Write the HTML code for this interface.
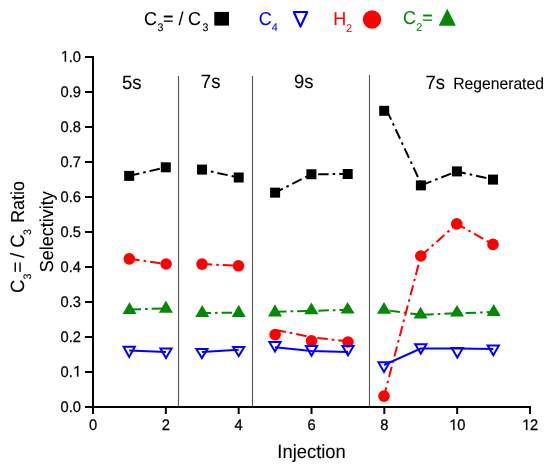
<!DOCTYPE html>
<html><head><meta charset="utf-8"><title>Selectivity chart</title>
<style>html,body{margin:0;padding:0;background:#fff;}svg{display:block;will-change:transform;font-family:"Liberation Sans",sans-serif;}</style>
</head><body>
<svg width="550" height="472" viewBox="0 0 550 472" font-family="Liberation Sans, sans-serif" text-rendering="geometricPrecision">
<line x1="93" y1="56" x2="93" y2="408" stroke="#000" stroke-width="2"/>
<line x1="92" y1="407" x2="531" y2="407" stroke="#000" stroke-width="2"/>
<line x1="85" y1="57" x2="93" y2="57" stroke="#000" stroke-width="2"/>
<path transform="translate(60.57,61.50) scale(0.00718,-0.00746)" d="M583,0 L764,0 L764,1409 L610,1409 L240,1165 L240,995 L583,1220 Z" fill="#000" stroke="#000" stroke-width="34.8"/><text transform="translate(68.74,61.50) scale(1,1.04)" font-size="14.7" stroke="#000" stroke-width="0.25">.</text><text transform="translate(72.83,61.50) scale(1,1.04)" font-size="14.7" stroke="#000" stroke-width="0.25">0</text>
<line x1="85" y1="92" x2="93" y2="92" stroke="#000" stroke-width="2"/>
<text transform="translate(60.57,96.50) scale(1,1.04)" font-size="14.7" stroke="#000" stroke-width="0.25">0</text><text transform="translate(68.74,96.50) scale(1,1.04)" font-size="14.7" stroke="#000" stroke-width="0.25">.</text><text transform="translate(72.83,96.50) scale(1,1.04)" font-size="14.7" stroke="#000" stroke-width="0.25">9</text>
<line x1="85" y1="127" x2="93" y2="127" stroke="#000" stroke-width="2"/>
<text transform="translate(60.57,131.50) scale(1,1.04)" font-size="14.7" stroke="#000" stroke-width="0.25">0</text><text transform="translate(68.74,131.50) scale(1,1.04)" font-size="14.7" stroke="#000" stroke-width="0.25">.</text><text transform="translate(72.83,131.50) scale(1,1.04)" font-size="14.7" stroke="#000" stroke-width="0.25">8</text>
<line x1="85" y1="162" x2="93" y2="162" stroke="#000" stroke-width="2"/>
<text transform="translate(60.57,166.50) scale(1,1.04)" font-size="14.7" stroke="#000" stroke-width="0.25">0</text><text transform="translate(68.74,166.50) scale(1,1.04)" font-size="14.7" stroke="#000" stroke-width="0.25">.</text><text transform="translate(72.83,166.50) scale(1,1.04)" font-size="14.7" stroke="#000" stroke-width="0.25">7</text>
<line x1="85" y1="197" x2="93" y2="197" stroke="#000" stroke-width="2"/>
<text transform="translate(60.57,201.50) scale(1,1.04)" font-size="14.7" stroke="#000" stroke-width="0.25">0</text><text transform="translate(68.74,201.50) scale(1,1.04)" font-size="14.7" stroke="#000" stroke-width="0.25">.</text><text transform="translate(72.83,201.50) scale(1,1.04)" font-size="14.7" stroke="#000" stroke-width="0.25">6</text>
<line x1="85" y1="232" x2="93" y2="232" stroke="#000" stroke-width="2"/>
<text transform="translate(60.57,236.50) scale(1,1.04)" font-size="14.7" stroke="#000" stroke-width="0.25">0</text><text transform="translate(68.74,236.50) scale(1,1.04)" font-size="14.7" stroke="#000" stroke-width="0.25">.</text><text transform="translate(72.83,236.50) scale(1,1.04)" font-size="14.7" stroke="#000" stroke-width="0.25">5</text>
<line x1="85" y1="267" x2="93" y2="267" stroke="#000" stroke-width="2"/>
<text transform="translate(60.57,271.50) scale(1,1.04)" font-size="14.7" stroke="#000" stroke-width="0.25">0</text><text transform="translate(68.74,271.50) scale(1,1.04)" font-size="14.7" stroke="#000" stroke-width="0.25">.</text><text transform="translate(72.83,271.50) scale(1,1.04)" font-size="14.7" stroke="#000" stroke-width="0.25">4</text>
<line x1="85" y1="302" x2="93" y2="302" stroke="#000" stroke-width="2"/>
<text transform="translate(60.57,306.50) scale(1,1.04)" font-size="14.7" stroke="#000" stroke-width="0.25">0</text><text transform="translate(68.74,306.50) scale(1,1.04)" font-size="14.7" stroke="#000" stroke-width="0.25">.</text><text transform="translate(72.83,306.50) scale(1,1.04)" font-size="14.7" stroke="#000" stroke-width="0.25">3</text>
<line x1="85" y1="337" x2="93" y2="337" stroke="#000" stroke-width="2"/>
<text transform="translate(60.57,341.50) scale(1,1.04)" font-size="14.7" stroke="#000" stroke-width="0.25">0</text><text transform="translate(68.74,341.50) scale(1,1.04)" font-size="14.7" stroke="#000" stroke-width="0.25">.</text><text transform="translate(72.83,341.50) scale(1,1.04)" font-size="14.7" stroke="#000" stroke-width="0.25">2</text>
<line x1="85" y1="372" x2="93" y2="372" stroke="#000" stroke-width="2"/>
<text transform="translate(60.57,376.50) scale(1,1.04)" font-size="14.7" stroke="#000" stroke-width="0.25">0</text><text transform="translate(68.74,376.50) scale(1,1.04)" font-size="14.7" stroke="#000" stroke-width="0.25">.</text><path transform="translate(72.83,376.50) scale(0.00718,-0.00746)" d="M583,0 L764,0 L764,1409 L610,1409 L240,1165 L240,995 L583,1220 Z" fill="#000" stroke="#000" stroke-width="34.8"/>
<line x1="85" y1="407" x2="93" y2="407" stroke="#000" stroke-width="2"/>
<text transform="translate(60.57,411.50) scale(1,1.04)" font-size="14.7" stroke="#000" stroke-width="0.25">0</text><text transform="translate(68.74,411.50) scale(1,1.04)" font-size="14.7" stroke="#000" stroke-width="0.25">.</text><text transform="translate(72.83,411.50) scale(1,1.04)" font-size="14.7" stroke="#000" stroke-width="0.25">0</text>
<line x1="93.00" y1="406" x2="93.00" y2="414" stroke="#000" stroke-width="2"/>
<text transform="translate(88.91,430.00) scale(1,1.04)" font-size="14.7" stroke="#000" stroke-width="0.25">0</text>
<line x1="165.83" y1="406" x2="165.83" y2="414" stroke="#000" stroke-width="2"/>
<text transform="translate(161.75,430.00) scale(1,1.04)" font-size="14.7" stroke="#000" stroke-width="0.25">2</text>
<line x1="238.67" y1="406" x2="238.67" y2="414" stroke="#000" stroke-width="2"/>
<text transform="translate(234.58,430.00) scale(1,1.04)" font-size="14.7" stroke="#000" stroke-width="0.25">4</text>
<line x1="311.50" y1="406" x2="311.50" y2="414" stroke="#000" stroke-width="2"/>
<text transform="translate(307.41,430.00) scale(1,1.04)" font-size="14.7" stroke="#000" stroke-width="0.25">6</text>
<line x1="384.33" y1="406" x2="384.33" y2="414" stroke="#000" stroke-width="2"/>
<text transform="translate(380.25,430.00) scale(1,1.04)" font-size="14.7" stroke="#000" stroke-width="0.25">8</text>
<line x1="457.17" y1="406" x2="457.17" y2="414" stroke="#000" stroke-width="2"/>
<path transform="translate(448.99,430.00) scale(0.00718,-0.00746)" d="M583,0 L764,0 L764,1409 L610,1409 L240,1165 L240,995 L583,1220 Z" fill="#000" stroke="#000" stroke-width="34.8"/><text transform="translate(457.17,430.00) scale(1,1.04)" font-size="14.7" stroke="#000" stroke-width="0.25">0</text>
<line x1="530.00" y1="406" x2="530.00" y2="414" stroke="#000" stroke-width="2"/>
<path transform="translate(521.83,430.00) scale(0.00718,-0.00746)" d="M583,0 L764,0 L764,1409 L610,1409 L240,1165 L240,995 L583,1220 Z" fill="#000" stroke="#000" stroke-width="34.8"/><text transform="translate(530.00,430.00) scale(1,1.04)" font-size="14.7" stroke="#000" stroke-width="0.25">2</text>
<line x1="178.5" y1="76" x2="178.5" y2="406" stroke="#555" stroke-width="1.1"/>
<line x1="252.5" y1="76" x2="252.5" y2="406" stroke="#555" stroke-width="1.1"/>
<line x1="369.5" y1="75" x2="369.5" y2="406" stroke="#555" stroke-width="1.1"/>
<text transform="translate(121.96,88.60) scale(1,1.04)" font-size="18.5" fill="#000" stroke="#000" stroke-width="0.1" >5s</text>
<text transform="translate(200.85,88.40) scale(1,1.04)" font-size="18.5" fill="#000" stroke="#000" stroke-width="0.1" >7s</text>
<text transform="translate(293.93,87.60) scale(1,1.04)" font-size="18.5" fill="#000" stroke="#000" stroke-width="0.1" >9s</text>
<text transform="translate(425.55,88.60) scale(1,1.04)" font-size="18.5" fill="#000" stroke="#000" stroke-width="0.1" >7s</text>
<text transform="translate(453.21,88.50) scale(1,1.04)" font-size="15.7" fill="#000" stroke="#000" stroke-width="0.1" >Regenerated</text>
<text transform="translate(277.30,458.30) scale(1,1.04)" font-size="18.4" fill="#000" stroke="#000" stroke-width="0.1" >Injection</text>
<text transform="translate(24.2,293) rotate(-90) scale(1,1.04)" fill="#000" stroke="#000" stroke-width="0.1"><tspan x="0" y="0" font-size="18.5">C</tspan><tspan x="13.4" y="6.55" font-size="10.5">3</tspan><tspan x="20.2" y="0" font-size="18.5">=</tspan><tspan x="35.1" y="0" font-size="18.5">/</tspan><tspan x="45.3" y="0" font-size="18.5">C</tspan><tspan x="58" y="6.55" font-size="10.5">3</tspan><tspan x="70.1" y="0" font-size="18">Ratio</tspan></text>
<text transform="translate(52.7,272.31) rotate(-90) scale(1,1.04)" fill="#000" stroke="#000" stroke-width="0.1"><tspan x="0" y="0" font-size="18">Selectivity</tspan></text>
<text transform="translate(143.89,24.70) scale(1,1.04)" font-size="18" fill="#000" stroke="#000" stroke-width="0.1" >C</text>
<text transform="translate(157.40,30.90) scale(1,1.04)" font-size="10.6" fill="#000" stroke="#000" stroke-width="0.1" >3</text>
<text transform="translate(163.02,24.70) scale(1,1.04)" font-size="18" fill="#000" stroke="#000" stroke-width="0.1" >=</text>
<text transform="translate(178.50,24.70) scale(1,1.04)" font-size="18" fill="#000" stroke="#000" stroke-width="0.1" >/</text>
<text transform="translate(188.09,24.70) scale(1,1.04)" font-size="18" fill="#000" stroke="#000" stroke-width="0.1" >C</text>
<text transform="translate(202.40,30.90) scale(1,1.04)" font-size="10.6" fill="#000" stroke="#000" stroke-width="0.1" >3</text>
<rect x="214.3" y="11.9" width="14.7" height="13.7" fill="#000"/>
<text transform="translate(258.69,24.90) scale(1,1.04)" font-size="18" fill="#0000ff" stroke="#0000ff" stroke-width="0.1" >C</text>
<text transform="translate(271.75,31.40) scale(1,1.04)" font-size="10.8" fill="#0000ff" stroke="#0000ff" stroke-width="0.1" >4</text>
<path d="M293.8,12 L307.2,12 L300.5,26.6 Z" fill="none" stroke="#0000ff" stroke-width="2.2" stroke-linejoin="round"/>
<text transform="translate(333.32,24.90) scale(1,1.04)" font-size="18" fill="#ff0000" stroke="#ff0000" stroke-width="0.1" >H</text>
<text transform="translate(345.96,31.60) scale(1,1.04)" font-size="10.8" fill="#ff0000" stroke="#ff0000" stroke-width="0.1" >2</text>
<circle cx="372" cy="19.5" r="9.2" fill="#ff0000"/>
<text transform="translate(402.89,24.40) scale(1,1.04)" font-size="18" fill="#068806" stroke="#068806" stroke-width="0.1" >C</text>
<text transform="translate(416.26,30.70) scale(1,1.04)" font-size="10.8" fill="#068806" stroke="#068806" stroke-width="0.1" >2</text>
<text transform="translate(422.32,24.40) scale(1,1.04)" font-size="18" fill="#068806" stroke="#068806" stroke-width="0.1" >=</text>
<path d="M447.3,8.7 L455.9,25.7 L438.7,25.7 Z" fill="#068806"/>
<line x1="129.20" y1="175.90" x2="165.80" y2="167.30" stroke="#000" stroke-width="2" stroke-dasharray="10.5 4 2.6 4" stroke-dashoffset="0.15"/>
<line x1="202.00" y1="169.60" x2="238.70" y2="177.50" stroke="#000" stroke-width="2" stroke-dasharray="10.5 4 2.6 4" stroke-dashoffset="5.35"/>
<line x1="275.10" y1="192.65" x2="311.40" y2="174.25" stroke="#000" stroke-width="2" stroke-dasharray="10.5 4 2.6 4" stroke-dashoffset="1.85"/>
<line x1="311.40" y1="174.25" x2="347.70" y2="174.00" stroke="#000" stroke-width="2" stroke-dasharray="10.5 4 2.6 4" stroke-dashoffset="14.40"/>
<line x1="387.00" y1="110.80" x2="421.90" y2="185.40" stroke="#000" stroke-width="2" stroke-dasharray="10.5 4 2.6 4" stroke-dashoffset="0.75"/>
<line x1="420.90" y1="185.40" x2="456.90" y2="171.40" stroke="#000" stroke-width="2" stroke-dasharray="10.5 4 2.6 4" stroke-dashoffset="20.35"/>
<line x1="456.90" y1="171.40" x2="493.00" y2="179.60" stroke="#000" stroke-width="2" stroke-dasharray="10.5 4 2.6 4" stroke-dashoffset="1.40"/>
<rect x="124.20" y="170.90" width="10" height="10" fill="#000"/>
<rect x="160.80" y="162.30" width="10" height="10" fill="#000"/>
<rect x="197.00" y="164.60" width="10" height="10" fill="#000"/>
<rect x="233.70" y="172.50" width="10" height="10" fill="#000"/>
<rect x="270.10" y="187.65" width="10" height="10" fill="#000"/>
<rect x="306.40" y="169.25" width="10" height="10" fill="#000"/>
<rect x="342.70" y="169.00" width="10" height="10" fill="#000"/>
<rect x="379.20" y="105.80" width="10" height="10" fill="#000"/>
<rect x="415.90" y="180.40" width="10" height="10" fill="#000"/>
<rect x="451.90" y="166.40" width="10" height="10" fill="#000"/>
<rect x="488.00" y="174.60" width="10" height="10" fill="#000"/>
<line x1="129.50" y1="309.50" x2="165.90" y2="308.40" stroke="#068806" stroke-width="2" stroke-dasharray="10.5 4 2.6 4" stroke-dashoffset="20.05"/>
<line x1="202.20" y1="313.00" x2="238.70" y2="312.70" stroke="#068806" stroke-width="2" stroke-dasharray="10.5 4 2.6 4" stroke-dashoffset="1.65"/>
<line x1="275.00" y1="311.80" x2="311.40" y2="310.80" stroke="#068806" stroke-width="2" stroke-dasharray="10.5 4 2.6 4" stroke-dashoffset="20.05"/>
<line x1="311.40" y1="310.80" x2="347.60" y2="309.90" stroke="#068806" stroke-width="2" stroke-dasharray="10.5 4 2.6 4" stroke-dashoffset="14.15"/>
<line x1="384.00" y1="309.90" x2="420.60" y2="314.80" stroke="#068806" stroke-width="2" stroke-dasharray="10.5 4 2.6 4" stroke-dashoffset="15.65"/>
<line x1="420.60" y1="314.80" x2="457.00" y2="313.20" stroke="#068806" stroke-width="2" stroke-dasharray="10.5 4 2.6 4" stroke-dashoffset="18.45"/>
<line x1="457.00" y1="313.20" x2="493.70" y2="312.10" stroke="#068806" stroke-width="2" stroke-dasharray="10.5 4 2.6 4" stroke-dashoffset="12.50"/>
<path d="M129.50,302.20 L136.50,314.00 L122.50,314.00 Z" fill="#068806"/>
<path d="M165.90,300.50 L172.90,312.70 L158.90,312.70 Z" fill="#068806"/>
<path d="M202.20,305.00 L209.20,317.00 L195.20,317.00 Z" fill="#068806"/>
<path d="M238.70,304.70 L245.70,316.90 L231.70,316.90 Z" fill="#068806"/>
<path d="M275.00,304.20 L282.00,316.50 L268.00,316.50 Z" fill="#068806"/>
<path d="M311.40,302.50 L318.40,314.20 L304.40,314.20 Z" fill="#068806"/>
<path d="M347.60,301.90 L354.60,313.50 L340.60,313.50 Z" fill="#068806"/>
<path d="M384.00,301.90 L391.00,313.70 L377.00,313.70 Z" fill="#068806"/>
<path d="M420.60,306.80 L427.60,318.60 L413.60,318.60 Z" fill="#068806"/>
<path d="M457.00,305.10 L464.00,316.40 L450.00,316.40 Z" fill="#068806"/>
<path d="M493.70,304.10 L500.70,316.00 L486.70,316.00 Z" fill="#068806"/>
<line x1="129.30" y1="258.85" x2="166.10" y2="264.00" stroke="#ff0000" stroke-width="2" stroke-dasharray="10.5 4 2.6 4" stroke-dashoffset="0.10"/>
<line x1="202.00" y1="264.10" x2="238.50" y2="265.80" stroke="#ff0000" stroke-width="2" stroke-dasharray="10.5 4 2.6 4" stroke-dashoffset="0.30"/>
<line x1="275.10" y1="329.80" x2="311.50" y2="337.20" stroke="#ff0000" stroke-width="2" stroke-dasharray="10.5 4 2.6 4" stroke-dashoffset="20.60"/>
<line x1="311.50" y1="337.20" x2="348.00" y2="341.50" stroke="#ff0000" stroke-width="2" stroke-dasharray="10.5 4 2.6 4" stroke-dashoffset="15.25"/>
<line x1="384.00" y1="396.10" x2="420.80" y2="256.00" stroke="#ff0000" stroke-width="2" stroke-dasharray="10.5 4 2.6 4" stroke-dashoffset="1.30"/>
<line x1="420.80" y1="256.00" x2="456.80" y2="223.90" stroke="#ff0000" stroke-width="2" stroke-dasharray="10.5 4 2.6 4" stroke-dashoffset="0.00"/>
<line x1="456.80" y1="223.90" x2="493.00" y2="244.40" stroke="#ff0000" stroke-width="2" stroke-dasharray="10.5 4 2.6 4" stroke-dashoffset="1.20"/>
<circle cx="129.30" cy="258.85" r="5.8" fill="#ff0000"/>
<circle cx="166.10" cy="264.00" r="5.8" fill="#ff0000"/>
<circle cx="202.00" cy="264.10" r="5.8" fill="#ff0000"/>
<circle cx="238.50" cy="265.80" r="5.8" fill="#ff0000"/>
<circle cx="275.10" cy="334.60" r="5.8" fill="#ff0000"/>
<circle cx="311.50" cy="340.80" r="5.8" fill="#ff0000"/>
<circle cx="348.00" cy="342.00" r="5.8" fill="#ff0000"/>
<circle cx="384.00" cy="396.10" r="5.8" fill="#ff0000"/>
<circle cx="420.80" cy="256.00" r="5.8" fill="#ff0000"/>
<circle cx="456.80" cy="223.90" r="5.8" fill="#ff0000"/>
<circle cx="493.00" cy="244.40" r="5.8" fill="#ff0000"/>
<polyline points="129.20,350.50 166.00,352.10" fill="none" stroke="#0000ff" stroke-width="2"/>
<polyline points="201.90,352.00 238.70,349.80" fill="none" stroke="#0000ff" stroke-width="2"/>
<polyline points="275.00,347.20 311.50,351.00 348.00,351.90" fill="none" stroke="#0000ff" stroke-width="2"/>
<polyline points="384.00,365.00 420.80,348.50 457.30,348.60 493.30,349.00" fill="none" stroke="#0000ff" stroke-width="2"/>
<path d="M123.60,346.80 L134.80,346.80 L129.20,356.90 Z" fill="none" stroke="#0000ff" stroke-width="2" stroke-linejoin="miter"/>
<path d="M160.40,348.40 L171.60,348.40 L166.00,358.10 Z" fill="none" stroke="#0000ff" stroke-width="2" stroke-linejoin="miter"/>
<path d="M196.30,349.00 L207.50,349.00 L201.90,358.10 Z" fill="none" stroke="#0000ff" stroke-width="2" stroke-linejoin="miter"/>
<path d="M233.10,346.90 L244.30,346.90 L238.70,356.10 Z" fill="none" stroke="#0000ff" stroke-width="2" stroke-linejoin="miter"/>
<path d="M269.40,342.10 L280.60,342.10 L275.00,351.60 Z" fill="none" stroke="#0000ff" stroke-width="2" stroke-linejoin="miter"/>
<path d="M305.90,346.00 L317.10,346.00 L311.50,355.70 Z" fill="none" stroke="#0000ff" stroke-width="2" stroke-linejoin="miter"/>
<path d="M342.40,346.00 L353.60,346.00 L348.00,355.30 Z" fill="none" stroke="#0000ff" stroke-width="2" stroke-linejoin="miter"/>
<path d="M378.40,362.20 L389.60,362.20 L384.00,371.90 Z" fill="none" stroke="#0000ff" stroke-width="2" stroke-linejoin="miter"/>
<path d="M415.20,344.30 L426.40,344.30 L420.80,353.60 Z" fill="none" stroke="#0000ff" stroke-width="2" stroke-linejoin="miter"/>
<path d="M451.70,347.90 L462.90,347.90 L457.30,357.50 Z" fill="none" stroke="#0000ff" stroke-width="2" stroke-linejoin="miter"/>
<path d="M487.70,345.60 L498.90,345.60 L493.30,355.20 Z" fill="none" stroke="#0000ff" stroke-width="2" stroke-linejoin="miter"/>
</svg>
</body></html>
